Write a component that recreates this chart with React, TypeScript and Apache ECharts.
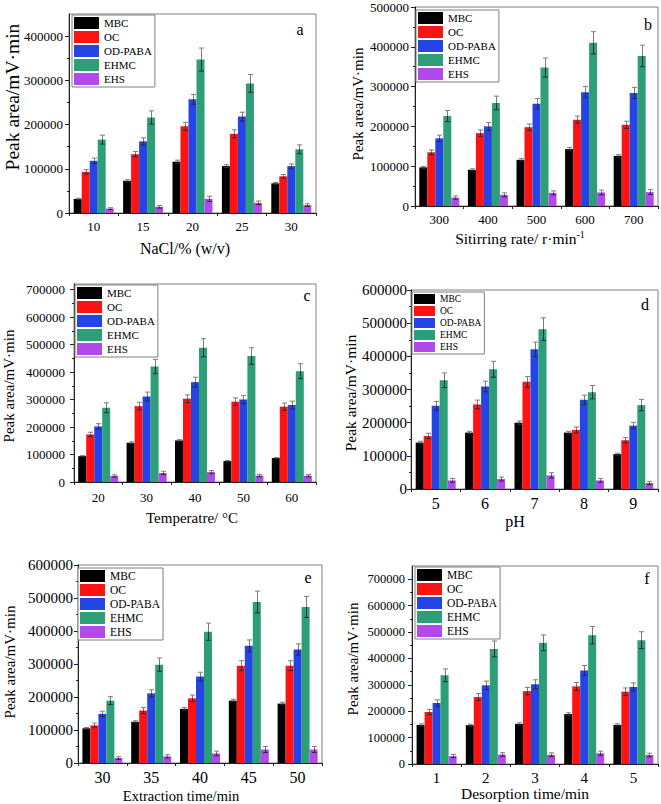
import React, { useEffect, useRef } from 'react';
import * as echarts from 'echarts';

const SERIES_NAMES = ['MBC', 'OC', 'OD-PABA', 'EHMC', 'EHS'];
const COLORS = ['#000000', '#FF1212', '#2444E6', '#2C9E78', '#B24AEA'];
const Y_NAME = 'Peak area/mV·min';

// ---- Panel a: NaCl ----
const catsA = ['10', '15', '20', '25', '30'];
const mbcA = [32000, 73000, 116000, 106000, 67000];
const ocA = [93000, 133000, 196000, 179000, 83000];
const odA = [118000, 162000, 257000, 218000, 106000];
const ehmcA = [166000, 216000, 347000, 293000, 144000];
const ehsA = [10000, 14000, 32000, 23000, 18000];
const errA = [
  [1500, 2000, 3500, 3000, 2000],
  [5000, 6000, 9000, 9000, 4000],
  [6000, 8000, 11000, 10000, 5000],
  [10000, 15000, 26000, 20000, 10000],
  [2000, 3000, 6000, 4000, 3000],
];

// ---- Panel b: stirring rate ----
const catsB = ['300', '400', '500', '600', '700'];
const mbcB = [97000, 91000, 116000, 143000, 126000];
const ocB = [135000, 183000, 198000, 217000, 204000];
const odB = [170000, 200000, 257000, 286000, 284000];
const ehmcB = [226000, 259000, 348000, 410000, 377000];
const ehsB = [21000, 28000, 33000, 34000, 35000];
const errB = [
  [2500, 2500, 3000, 4000, 3000],
  [6000, 8000, 8000, 9000, 9000],
  [8000, 10000, 13000, 14000, 14000],
  [14000, 17000, 24000, 28000, 27000],
  [4000, 5000, 5000, 6000, 6000],
];

// ---- Panel c: temperature ----
const catsC = ['20', '30', '40', '50', '60'];
const mbcC = [94000, 143000, 151000, 76000, 87000];
const ocC = [173000, 276000, 303000, 292000, 274000];
const odC = [202000, 311000, 363000, 300000, 280000];
const ehmcC = [270000, 420000, 488000, 458000, 403000];
const ehsC = [22000, 33000, 36000, 23000, 23000];
const errC = [
  [2000, 3000, 3000, 2000, 2000],
  [8000, 14000, 14000, 14000, 13000],
  [10000, 16000, 18000, 15000, 14000],
  [18000, 26000, 33000, 30000, 27000],
  [4000, 6000, 6000, 4000, 4000],
];

// ---- Panel d: pH ----
const catsD = ['5', '6', '7', '8', '9'];
const mbcD = [140000, 170000, 200000, 170000, 105000];
const ocD = [160000, 255000, 323000, 178000, 147000];
const odD = [251000, 309000, 421000, 269000, 191000];
const ehmcD = [328000, 361000, 482000, 292000, 253000];
const ehsD = [26000, 30000, 41000, 26000, 18000];
const errD = [
  [4000, 4000, 5000, 4000, 3000],
  [8000, 13000, 16000, 9000, 8000],
  [13000, 16000, 22000, 14000, 10000],
  [22000, 24000, 34000, 20000, 17000],
  [6000, 6000, 8000, 6000, 5000],
];

// ---- Panel e: extraction time ----
const catsE = ['30', '35', '40', '45', '50'];
const mbcE = [105000, 125000, 164000, 189000, 180000];
const ocE = [114000, 159000, 196000, 295000, 295000];
const odE = [149000, 211000, 262000, 355000, 344000];
const ehmcE = [189000, 298000, 398000, 488000, 473000];
const ehsE = [15000, 20000, 29000, 41000, 41000];
const errE = [
  [2500, 3000, 4000, 4000, 4000],
  [7000, 9000, 10000, 15000, 15000],
  [8000, 11000, 13000, 18000, 17000],
  [12000, 20000, 26000, 33000, 32000],
  [4000, 5000, 7000, 9000, 9000],
];

// ---- Panel f: desorption time ----
const catsF = ['1', '2', '3', '4', '5'];
const mbcF = [148000, 147000, 152000, 189000, 148000];
const ocF = [197000, 254000, 276000, 294000, 274000];
const odF = [231000, 298000, 302000, 354000, 292000];
const ehmcF = [336000, 436000, 459000, 488000, 469000];
const ehsF = [30000, 36000, 35000, 41000, 34000];
const errF = [
  [4000, 4000, 4000, 5000, 4000],
  [10000, 13000, 14000, 15000, 14000],
  [12000, 16000, 17000, 19000, 15000],
  [24000, 30000, 30000, 33000, 32000],
  [6000, 7000, 7000, 8000, 7000],
];

const FONT = 'Liberation Serif';

const PANELS = [
  {
    letter: 'a', cats: catsA, values: [mbcA, ocA, odA, ehmcA, ehsA], errs: errA,
    xName: 'NaCl/% (w/v)', yMax: 450000,
  },
  {
    letter: 'b', cats: catsB, values: [mbcB, ocB, odB, ehmcB, ehsB], errs: errB,
    xName: '{m|Sitirring rate/ r·min}{s|-1}', yMax: 500000,
  },
  {
    letter: 'c', cats: catsC, values: [mbcC, ocC, odC, ehmcC, ehsC], errs: errC,
    xName: 'Temperatre/ °C', yMax: 720000,
  },
  {
    letter: 'd', cats: catsD, values: [mbcD, ocD, odD, ehmcD, ehsD], errs: errD,
    xName: 'pH', yMax: 600000,
  },
  {
    letter: 'e', cats: catsE, values: [mbcE, ocE, odE, ehmcE, ehsE], errs: errE,
    xName: 'Extraction time/min', yMax: 600000,
  },
  {
    letter: 'f', cats: catsF, values: [mbcF, ocF, odF, ehmcF, ehsF], errs: errF,
    xName: 'Desorption time/min', yMax: 750000,
  },
];

// layout / style per panel
const LAYOUT = [
  { grid: [69, 14, 247, 199], yl: 13, ylm: 6, xl: 13, xlm: 7, xn: [185, 248, 16], yn: [12, 97, 19.5],
    lg: [72, 15, 25, 12, 2, 11], let: [300, 29] },
  { grid: [415, 7, 243, 199], yl: 13, ylm: 6, xl: 13, xlm: 7, xn: [520, 238, 15.5], yn: [358, 104, 15],
    lg: [416, 10, 25, 12, 2, 11], let: [648, 24] },
  { grid: [74, 284, 242, 198], yl: 13, ylm: 9, xl: 13, xlm: 9, xn: [192, 518, 15], yn: [9, 386, 15],
    lg: [75, 285, 25, 12, 2, 11], let: [307, 295] },
  { grid: [411, 290, 247, 199], yl: 15, ylm: 4, xl: 16, xlm: 6, xn: [515, 521, 16], yn: [350, 393, 15.5],
    lg: [412, 292, 21, 10, 2, 9.5], let: [645, 304] },
  { grid: [78, 565, 244, 198], yl: 15, ylm: 5, xl: 16, xlm: 6, xn: [181, 796, 14.5], yn: [10, 662, 15],
    lg: [78, 568, 25, 12, 2, 11.5], let: [308, 577] },
  { grid: [412, 566, 246, 198], yl: 12.5, ylm: 7, xl: 15, xlm: 6, xn: [525, 793, 15.4], yn: [353, 659, 15],
    lg: [415, 567, 25, 12, 2, 11.5], let: [647, 578] },
];

const BAR_W = 8;

function buildOption() {
  const grid: any[] = [];
  const xAxis: any[] = [];
  const yAxis: any[] = [];
  const series: any[] = [];
  const legend: any[] = [];
  const graphic: any[] = [];

  PANELS.forEach((p, pi) => {
    const L = LAYOUT[pi];
    grid.push({
      left: L.grid[0], top: L.grid[1], width: L.grid[2], height: L.grid[3],
      show: true, borderColor: '#808080', borderWidth: 1, backgroundColor: 'transparent',
    });
    const majors: number[] = [];
    for (let v = 0; v <= p.yMax; v += 100000) majors.push(v);
    xAxis.push({
      type: 'category', gridIndex: pi, data: p.cats,
      axisLine: { show: true, lineStyle: { color: '#222', width: 1 } },
      axisTick: { show: true, inside: false, length: 3, alignWithLabel: false, lineStyle: { color: '#222' } },
      axisLabel: { fontFamily: FONT, fontSize: L.xl, color: '#000', margin: L.xlm },
      splitLine: { show: false },
    });
    yAxis.push({
      type: 'value', gridIndex: pi, min: 0, max: p.yMax, interval: 100000,
      axisLine: { show: true, lineStyle: { color: '#222', width: 1 } },
      axisTick: { show: true, inside: false, length: 4, customValues: majors, lineStyle: { color: '#222' } },
      minorTick: { show: true, splitNumber: 2, length: 2, lineStyle: { color: '#222' } },
      axisLabel: {
        customValues: majors, fontFamily: FONT, fontSize: L.yl, color: '#000', margin: L.ylm,
        formatter: (v: number) => String(Math.round(v)),
      },
      splitLine: { show: false },
      minorSplitLine: { show: false },
    });

    SERIES_NAMES.forEach((name, si) => {
      series.push({
        type: 'bar', name, xAxisIndex: pi, yAxisIndex: pi,
        barWidth: BAR_W, barGap: '0%',
        itemStyle: { color: COLORS[si] },
        data: p.values[si],
        z: 2,
      });
    });
    SERIES_NAMES.forEach((name, si) => {
      const off = (si - 2) * BAR_W;
      series.push({
        type: 'custom', name: name + ' error', xAxisIndex: pi, yAxisIndex: pi,
        encode: { x: 0, y: 1 },
        z: 3,
        silent: true,
        data: p.values[si].map((v, i) => [i, v, p.errs[si][i]]),
        renderItem: (params: any, api: any) => {
          const i = api.value(0);
          const v = api.value(1);
          const e = api.value(2);
          const top = api.coord([i, v + e]);
          const mid = api.coord([i, v]);
          const bot = api.coord([i, Math.max(0, v - e)]);
          const x = Math.round(mid[0] + off) + 0.5;
          const upC = '#7c7c7c';
          const dnC = '#2a2a40';
          return {
            type: 'group',
            children: [
              { type: 'line', shape: { x1: x, y1: top[1], x2: x, y2: mid[1] }, style: { stroke: upC, lineWidth: 1 } },
              { type: 'line', shape: { x1: x, y1: mid[1], x2: x, y2: bot[1] }, style: { stroke: dnC, lineWidth: 1 } },
              { type: 'line', shape: { x1: x - 2.5, y1: top[1], x2: x + 2.5, y2: top[1] }, style: { stroke: upC, lineWidth: 1 } },
              { type: 'line', shape: { x1: x - 2.5, y1: bot[1], x2: x + 2.5, y2: bot[1] }, style: { stroke: dnC, lineWidth: 1 } },
            ],
          };
        },
      });
    });

    const lg = L.lg;
    legend.push({
      show: true, orient: 'vertical', left: lg[0], top: lg[1],
      itemWidth: lg[2], itemHeight: lg[3], itemGap: lg[4],
      padding: [2, 3, 2, 2],
      borderColor: '#7f7f7f', borderWidth: 1, backgroundColor: '#ffffff',
      selectedMode: false,
      data: SERIES_NAMES.map((n) => ({ name: n, icon: 'rect' })),
      textStyle: { fontFamily: FONT, fontSize: lg[5], color: '#000', lineHeight: lg[3] },
    });

    graphic.push({
      type: 'text', x: L.let[0], y: L.let[1], z: 10,
      style: { text: p.letter, fontFamily: FONT, fontSize: 16, fill: '#000', align: 'center', verticalAlign: 'middle' },
    });
    graphic.push({
      type: 'text', x: L.yn[0], y: L.yn[1], rotation: Math.PI / 2, z: 10,
      style: { text: Y_NAME, fontFamily: FONT, fontSize: L.yn[2], fill: '#000', align: 'center', verticalAlign: 'middle' },
    });
    graphic.push({
      type: 'text', x: L.xn[0], y: L.xn[1], z: 10,
      style: {
        text: p.xName, fontFamily: FONT, fontSize: L.xn[2], fill: '#000', align: 'center', verticalAlign: 'middle',
        rich: {
          m: { fontFamily: FONT, fontSize: L.xn[2], fill: '#000', lineHeight: 18 },
          s: { fontFamily: FONT, fontSize: 10, fill: '#000', lineHeight: 10, verticalAlign: 'top' },
        },
      },
    });
  });

  return {
    animation: false,
    backgroundColor: '#ffffff',
    textStyle: { fontFamily: FONT },
    grid, xAxis, yAxis, series, legend, graphic,
  };
}

export default function App() {
  const ref = useRef<HTMLDivElement>(null);
  useEffect(() => {
    if (!ref.current) return;
    const chart = echarts.init(ref.current, undefined, { renderer: 'svg' });
    chart.setOption(buildOption() as any);
    return () => chart.dispose();
  }, []);
  return (
    <div
      ref={ref}
      style={{ position: 'absolute', left: 0, top: 0, width: 661, height: 804, background: '#fff' }}
    />
  );
}
